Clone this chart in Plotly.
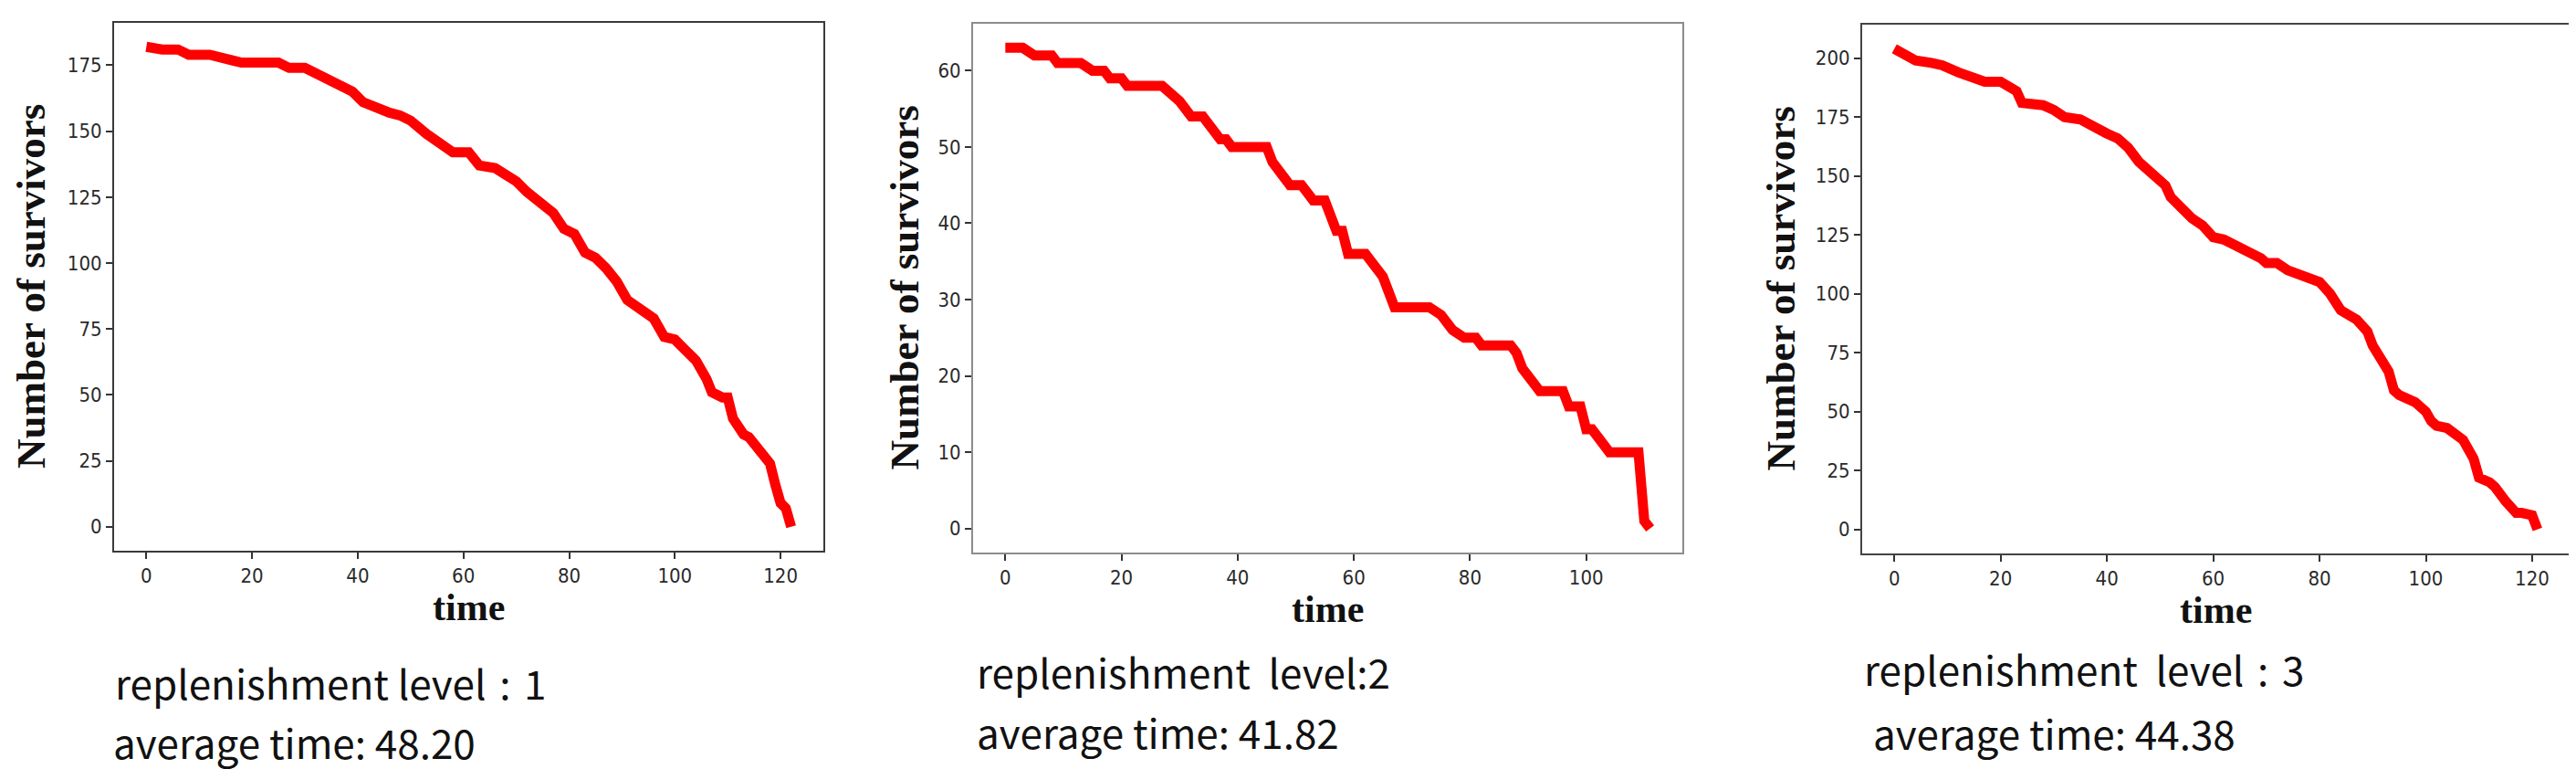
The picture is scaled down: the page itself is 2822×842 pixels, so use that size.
import plotly.graph_objects as go

W, H = 2822, 842

# ---- data ----
time_1 = [0, 3, 6, 8, 12, 14, 17, 18, 25, 27, 30, 33, 36, 39, 41, 42, 44, 46, 48, 50, 53, 56, 58, 61, 63, 66, 68, 70, 72, 74, 75, 77, 79, 81, 83, 85, 87, 89, 91, 93, 95, 96, 98, 100, 102, 104, 106, 107, 109, 110, 111, 113, 114, 116, 117, 118, 119, 120, 121, 122]
survivors_1 = [182, 181, 181, 179, 179, 178, 177, 176, 176, 174, 174, 171, 168, 165, 161, 160, 159, 157, 156, 154, 149, 145, 142, 142, 137, 136, 134, 131, 127, 124, 123, 119, 113, 111, 104, 102, 98, 93, 86, 83, 81, 79, 72, 71, 67, 63, 56, 51, 49, 49, 41, 35, 34, 29, 25, 24, 16, 9, 7, 0]

time_2 = [0, 3, 5, 8, 9, 13, 15, 17, 18, 20, 21, 27, 30, 32, 34, 36, 37, 38, 39, 45, 46, 48, 49, 51, 53, 55, 57, 58, 59, 62, 63, 65, 67, 73, 75, 77, 79, 81, 82, 87, 88, 89, 90, 91, 92, 96, 97, 99, 100, 101, 103, 104, 109, 110, 111]
survivors_2 = [63, 63, 62, 62, 61, 61, 60, 60, 59, 59, 58, 58, 56, 54, 54, 52, 51, 51, 50, 50, 48, 46, 45, 45, 43, 43, 39, 39, 36, 36, 35, 33, 29, 29, 28, 26, 25, 25, 24, 24, 23, 21, 20, 19, 18, 18, 16, 16, 13, 13, 11, 10, 10, 1, 0]

time_3 = [0, 1, 3, 4, 7, 9, 12, 15, 17, 20, 22, 23, 24, 28, 30, 32, 35, 38, 40, 42, 44, 46, 48, 50, 51, 52, 54, 56, 58, 60, 62, 65, 67, 69, 70, 72, 74, 77, 80, 82, 84, 87, 89, 90, 91, 93, 94, 95, 98, 100, 101, 102, 104, 106, 107, 109, 110, 112, 113, 115, 117, 118, 120, 121]
survivors_3 = [204, 203, 201, 199, 198, 197, 194, 192, 190, 190, 187, 186, 181, 180, 178, 175, 174, 170, 168, 166, 162, 156, 152, 149, 146, 141, 136, 132, 129, 124, 123, 120, 118, 115, 113, 113, 110, 108, 105, 100, 93, 89, 84, 78, 74, 67, 59, 57, 54, 50, 46, 44, 43, 40, 38, 30, 22, 20, 18, 12, 7, 7, 6, 0]

level_labels = ["replenishment level\u2004:\u20041", "replenishment \u00a0level:2", "replenishment \u00a0level\u2004:\u20043"]
avg_labels = ["average time: 48.20", "average time: 41.82", "average time: 44.38"]
x_dticks = [20, 20, 20]
y_dticks = [25, 10, 25]

# ---- layout geometry (pixels) ----
boxes = [  # left, right, top, bottom
    (117, 894, 17, 595),
    (1058, 1835, 18, 597),
    (2032, 2807, 19, 598),
]
frame_colors = ["#3a3a3a", "#8c8c8c", "#444444"]
ylabel_x = [26, 982, 1943]
xlabel_y = [657, 659, 660]
text1_pos = [(116, 739), (1060, 727), (2032, 724)]
text2_pos = [(114, 804), (1060, 793), (2042, 794)]

series = [(time_1, survivors_1), (time_2, survivors_2), (time_3, survivors_3)]

def px(x):
    return x / W

def py(y):
    return 1 - y / H

fig = go.Figure()
annotations = []
tick_font = dict(family="DejaVu Sans Condensed, Liberation Sans Narrow, DejaVu Sans", size=22, color="#2a2a2a")
xlabel_font = dict(family="Liberation Serif, Times New Roman, serif", size=42, color="#111111")
ylabel_font = dict(family="Liberation Serif, Times New Roman, serif", size=45, color="#111111")
text_font = dict(family="Noto Sans CJK SC, Noto Sans, sans-serif", size=44, color="#111111")

for i, ((t, v), (l, r, tp, bt)) in enumerate(zip(series, boxes)):
    n = "" if i == 0 else str(i + 1)
    fig.add_trace(go.Scatter(x=t, y=v, mode="lines", line=dict(color="#ff0000", width=11),
                             xaxis="x" + n, yaxis="y" + n, showlegend=False))
    xr = max(t) - min(t)
    yr = max(v) - min(v)
    ax_common = dict(showline=True, mirror=True, linecolor=frame_colors[i], linewidth=2,
                     ticks="outside", ticklen=7, tickwidth=2, tickcolor="#333333",
                     showgrid=False, zeroline=False, tickfont=tick_font)
    fig.update_layout(**{
        "xaxis" + n: dict(domain=[px(l), px(r)], anchor="y" + n,
                          range=[min(t) - 0.05 * xr, max(t) + 0.05 * xr],
                          tick0=0, dtick=x_dticks[i], **ax_common),
        "yaxis" + n: dict(domain=[py(bt), py(tp)], anchor="x" + n,
                          range=[min(v) - 0.05 * yr, max(v) + 0.05 * yr],
                          tick0=0, dtick=y_dticks[i], **ax_common),
    })
    cx = (l + r) / 2
    cy = (tp + bt) / 2
    annotations.append(dict(text="<b>time</b>", x=px(cx), y=py(xlabel_y[i]), xref="paper", yref="paper",
                            xanchor="center", yanchor="middle", showarrow=False, font=xlabel_font))
    annotations.append(dict(text="<b>Number of survivors</b>", x=px(ylabel_x[i]), y=py(cy), xref="paper", yref="paper",
                            xanchor="center", yanchor="middle", textangle=-90, showarrow=False, font=ylabel_font))
    annotations.append(dict(text=level_labels[i], x=px(text1_pos[i][0]), y=py(text1_pos[i][1]), xref="paper", yref="paper",
                            xanchor="left", yanchor="middle", showarrow=False, font=text_font))
    annotations.append(dict(text=avg_labels[i], x=px(text2_pos[i][0]), y=py(text2_pos[i][1]), xref="paper", yref="paper",
                            xanchor="left", yanchor="middle", showarrow=False, font=text_font))

fig.update_layout(width=W, height=H, margin=dict(l=0, r=0, t=0, b=0),
                  paper_bgcolor="white", plot_bgcolor="white", annotations=annotations)

fig.write_html("out.html")
